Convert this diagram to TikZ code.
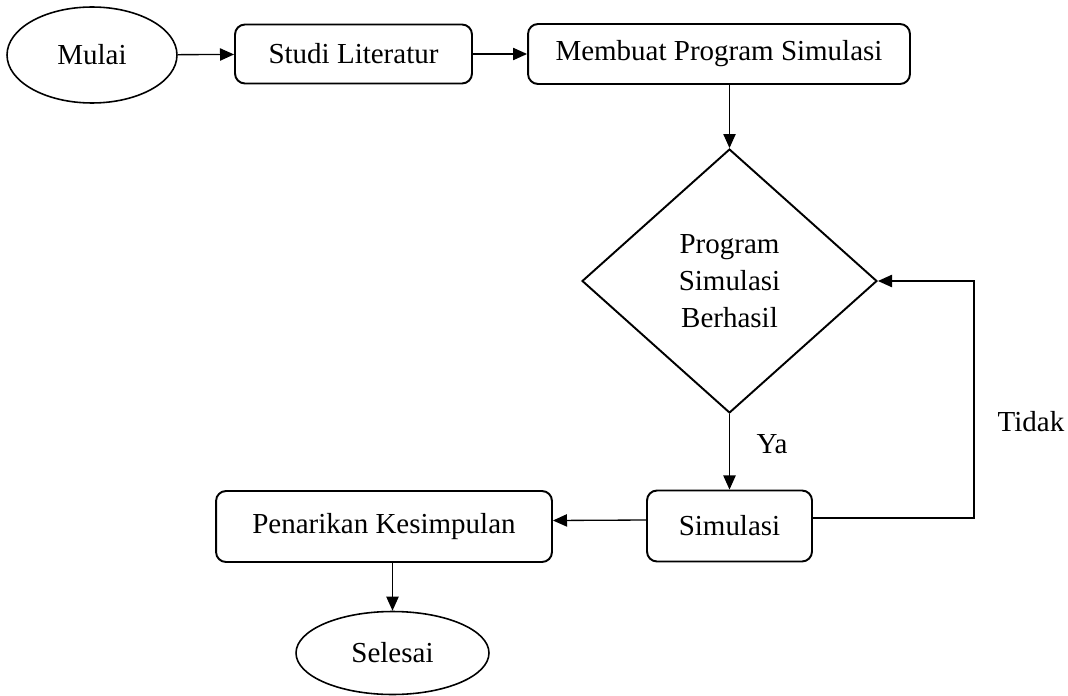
\documentclass[tikz,border=0pt]{standalone}
\usepackage{fontspec}
\setmainfont{Liberation Serif}
\usetikzlibrary{shapes.geometric,arrows.meta}

\begin{document}
\begin{tikzpicture}[x=0.02cm, y=-0.02cm,
	kotak/.style={draw, line width=1.1pt, rounded corners=0.2cm, inner sep=0pt, font=\fontsize{16.5}{21}\selectfont},
	elips/.style={draw, ellipse, line width=0.9pt, inner sep=0pt, font=\fontsize{16.5}{21}\selectfont},
	keputusan/.style={draw, diamond, line width=1.1pt, inner sep=0pt, align=center, font=\fontsize{16.5}{21}\selectfont},
	panah/.style={line width=0.75pt, -{Triangle[length=8pt,width=7pt]}},
	label/.style={inner sep=0pt, font=\fontsize{16.5}{21}\selectfont}]
	\useasboundingbox (0,0) rectangle (1068,696);
	\node[elips, minimum width=3.4cm, minimum height=1.92cm] (mulai) at (92,55) {Mulai};
	\node[kotak, minimum width=4.74cm, minimum height=1.18cm] (studi) at (353.5,54) {Studi Literatur};
	\node[kotak, minimum width=7.64cm, minimum height=1.2cm] (membuat) at (719,54) {Membuat Program Simulasi};
	\node[keputusan, minimum width=5.9cm, minimum height=5.28cm] (cek) at (729.5,281) {Program\\Simulasi\\Berhasil};
	\node[kotak, minimum width=3.3cm, minimum height=1.42cm] (simulasi) at (729.5,526) {Simulasi};
	\node[kotak, minimum width=6.72cm, minimum height=1.42cm] (penarikan) at (384,526.5) {Penarikan Kesimpulan};
	\node[elips, minimum width=3.86cm, minimum height=1.66cm] (selesai) at (392.5,653) {Selesai};
	\node[label] (ya) at (772,444) {Ya};
	\node[label] (tidak) at (1031,422) {Tidak};
	\coordinate (belok) at (974,281);
	\draw[panah] (mulai) -- (studi);
	\draw[panah] (studi) -- (membuat);
	\draw[panah] (membuat.south -| cek.north) -- (cek.north);
	\draw[panah] (cek.south) -- (simulasi.north -| cek.south);
	\draw[panah] ([yshift=0.12cm]simulasi.west) -- ([yshift=0.12cm]penarikan.east);
	\draw[panah] ([yshift=0.16cm]simulasi.east) -| (belok) -- (cek.east);
	\draw[panah] (penarikan.south -| selesai.north) -- (selesai.north);
\end{tikzpicture}
\end{document}
